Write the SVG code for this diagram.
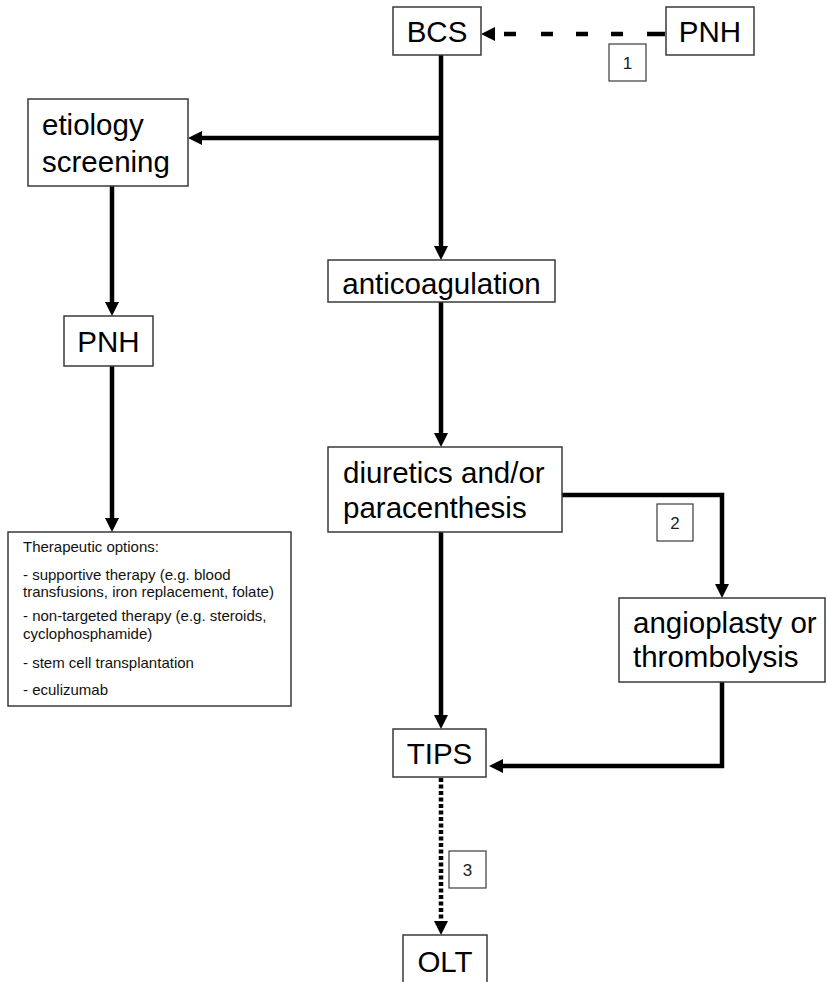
<svg xmlns="http://www.w3.org/2000/svg" width="827" height="982" viewBox="0 0 827 982">
<style>
.box{fill:#fff;stroke:#3a3a3a;stroke-width:1.5}
.lbl{fill:#fff;stroke:#3a3a3a;stroke-width:1.2}
.big{font-family:"Liberation Sans",Arial,sans-serif;font-size:29.5px;fill:#000}
.small{font-family:"Liberation Sans",Arial,sans-serif;font-size:15px;fill:#111}
.num{font-family:"Liberation Sans",Arial,sans-serif;font-size:17px;fill:#222;text-anchor:middle}
.c{fill:none;stroke:#000;stroke-width:4.5}
</style>
<defs>
<marker id="ah" markerUnits="userSpaceOnUse" viewBox="0 0 14 14" markerWidth="14" markerHeight="14" refX="4" refY="7" orient="auto">
<path d="M0,0 L14,7 L0,14 z" fill="#000"/>
</marker>
</defs>
<rect width="827" height="982" fill="#fff"/>
<g id="connectors">
<path class="c" d="M665 34 H491" stroke-width="5" stroke-dasharray="18 24 12 23 12 23 12 25 12 100" marker-end="url(#ah)"/>
<path class="c" d="M441 55 V250" marker-end="url(#ah)"/>
<path class="c" d="M441 138 H198" marker-end="url(#ah)"/>
<path class="c" d="M112 186 V306" marker-end="url(#ah)"/>
<path class="c" d="M112 366 V522" marker-end="url(#ah)"/>
<path class="c" d="M441 302 V437" marker-end="url(#ah)"/>
<path class="c" d="M562 495 H722 V588" marker-end="url(#ah)"/>
<path class="c" d="M441 532 V719" marker-end="url(#ah)"/>
<path class="c" d="M722 682 V766 H499" marker-end="url(#ah)"/>
<path class="c" d="M441 778 V925" stroke-width="5.5" stroke-dasharray="4 2.5" marker-end="url(#ah)"/>
</g>
<g id="label1"><rect class="lbl" x="609" y="44" width="37" height="37"/><text class="num" x="627.5" y="69">1</text></g>
<g id="label2"><rect class="lbl" x="657" y="504" width="36" height="37"/><text class="num" x="675" y="529">2</text></g>
<g id="label3"><rect class="lbl" x="449" y="851" width="37" height="37"/><text class="num" x="467.5" y="876">3</text></g>
<g id="bcs"><rect class="box" x="393" y="7" width="88" height="48"/><text class="big" x="437" y="42" text-anchor="middle">BCS</text></g>
<g id="pnh-top"><rect class="box" x="666" y="7" width="88" height="48"/><text class="big" x="710" y="42" text-anchor="middle">PNH</text></g>
<g id="etiology"><rect class="box" x="28" y="99" width="160" height="87"/><text class="big" x="42" y="135">etiology</text><text class="big" x="42" y="172">screening</text></g>
<g id="pnh-left"><rect class="box" x="64" y="316" width="89" height="50"/><text class="big" x="108.5" y="352" text-anchor="middle">PNH</text></g>
<g id="therapeutic"><rect class="box" x="8" y="532" width="283" height="174"/>
<text class="small" x="23" y="552">Therapeutic options:</text>
<text class="small" x="23" y="580">- supportive therapy (e.g. blood</text>
<text class="small" x="23" y="597">transfusions, iron replacement, folate)</text>
<text class="small" x="23" y="621">- non-targeted therapy (e.g. steroids,</text>
<text class="small" x="23" y="639">cyclophosphamide)</text>
<text class="small" x="23" y="668">- stem cell transplantation</text>
<text class="small" x="23" y="695">- eculizumab</text>
</g>
<g id="anticoagulation"><rect class="box" x="328" y="260" width="227" height="42"/><text class="big" x="441.5" y="294" text-anchor="middle">anticoagulation</text></g>
<g id="diuretics"><rect class="box" x="328" y="447" width="234" height="85"/><text class="big" x="343" y="483">diuretics and/or</text><text class="big" x="343" y="518">paracenthesis</text></g>
<g id="angioplasty"><rect class="box" x="619" y="598" width="206" height="84"/><text class="big" x="633" y="633">angioplasty or</text><text class="big" x="633" y="667">thrombolysis</text></g>
<g id="tips"><rect class="box" x="393" y="729" width="93" height="48"/><text class="big" x="439.5" y="764" text-anchor="middle">TIPS</text></g>
<g id="olt"><rect class="box" x="403" y="935" width="84" height="52"/><text class="big" x="445" y="972" text-anchor="middle">OLT</text></g>
</svg>
